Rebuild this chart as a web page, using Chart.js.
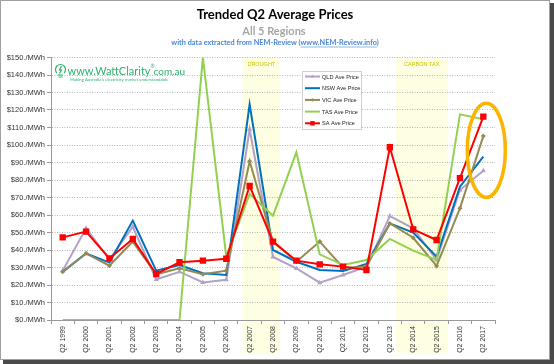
<!DOCTYPE html>
<html lang="en">
<head>
<meta charset="UTF-8" />
<title>Trended Q2 Average Prices</title>
<script src="https://cdn.jsdelivr.net/npm/chart.js"></script>
<style>
  html, body { margin: 0; padding: 0; background: #fff; }
  canvas { display: block; }
</style>
</head>
<body>
<canvas id="chart" width="554" height="364"></canvas>
<script>
const labels = ['Q2 1999', 'Q2 2000', 'Q2 2001', 'Q2 2002', 'Q2 2003', 'Q2 2004', 'Q2 2005', 'Q2 2006', 'Q2 2007', 'Q2 2008',
                'Q2 2009', 'Q2 2010', 'Q2 2011', 'Q2 2012', 'Q2 2013', 'Q2 2014', 'Q2 2015', 'Q2 2016', 'Q2 2017'];
const qld = [28.2, 52.4, 34.7, 53.3, 23.2, 27.6, 21.5, 23.0, 109.0, 36.0, 29.5, 21.3, 25.7, 30.5, 59.4, 52.4, 34.3, 74.3, 85.3];
const nsw = [27.5, 38.0, 32.8, 56.8, 28.2, 31.4, 26.7, 25.7, 123.2, 40.0, 33.3, 28.6, 28.0, 32.0, 55.2, 49.9, 36.2, 76.2, 93.3];
const vic = [27.6, 38.1, 31.0, 44.8, 26.1, 29.5, 26.1, 28.2, 90.7, 44.8, 33.3, 44.8, 29.9, 30.5, 55.2, 47.0, 30.9, 63.8, 105.1];
const tas = [0, 0, 0, 0, 0, 0, 150.0, 36.2, 72.0, 59.6, 95.8, 37.5, 31.4, 34.3, 46.3, 39.6, 34.3, 117.5, 114.7];
const sa  = [47.2, 50.5, 35.2, 46.3, 26.3, 33.0, 33.9, 35.0, 76.6, 44.8, 33.9, 31.8, 30.5, 28.6, 98.7, 51.8, 45.7, 81.1, 116.2];
const seriesNames = ['QLD Ave Price', 'NSW Ave Price', 'VIC Ave Price', 'TAS Ave Price', 'SA Ave Price'];
const yTicks = { min: 0, max: 150, step: 10 };

const colors = ['#b3a2c7', '#0070c0', '#948a54', '#92d050', '#ff0000'];
const markers = ['triangle', false, 'rectRot', false, 'rect'];
const markerSize = [3, 0, 2.5, 0, 4.5];

// frame, shaded periods, titles, logo, legend and the highlight ring
const decor = {
  id: 'decor',
  beforeDraw(chart) {
    const { ctx, chartArea: a, scales: { x } } = chart;
    ctx.save();
    ctx.fillStyle = '#4a4a4a';
    ctx.fillRect(3, 3, 551, 361);
    ctx.fillStyle = '#fff';
    ctx.fillRect(0, 0, 550, 360);
    ctx.strokeStyle = '#a0a0a0';
    ctx.lineWidth = 1;
    ctx.strokeRect(0.5, 0.5, 549, 359);

    const bands = [
      { text: 'DROUGHT', from: x.getPixelForValue(8) - 7, to: x.getPixelForValue(9) + 7 },
      { text: 'CARBON TAX', from: x.getPixelForValue(15) - 17.5, to: x.getPixelForValue(16) + 11 }
    ];
    bands.forEach(b => {
      ctx.fillStyle = '#fefee2';
      ctx.fillRect(b.from, a.top, b.to - b.from, 353 - a.top);
      ctx.fillStyle = '#c9c400';
      ctx.font = '5.5px "Liberation Sans"';
      ctx.textAlign = 'center';
      ctx.textBaseline = 'middle';
      ctx.fillText(b.text, (b.from + b.to) / 2, a.top + 7);
    });
    ctx.restore();
  },
  afterDraw(chart) {
    const { ctx, scales: { x, y } } = chart;
    ctx.save();
    ctx.textAlign = 'center';
    ctx.textBaseline = 'middle';
    ctx.fillStyle = '#000';
    ctx.font = 'bold 13px Lato';
    ctx.fillText('Trended Q2 Average Prices', 275, 15);
    ctx.fillStyle = '#a6a6a6';
    ctx.font = 'bold 11px Lato';
    ctx.fillText('All 5 Regions', 274, 31);
    ctx.font = 'bold 7.3px Lato';
    ctx.fillStyle = '#4a86d8';
    const pre = 'with data extracted from NEM-Review (';
    const link = 'www.NEM-Review.info';
    const full = pre + link + ')';
    const w = ctx.measureText(full).width;
    let sx = 275 - w / 2;
    ctx.textAlign = 'left';
    ctx.fillText(full, sx, 43);
    const lx = sx + ctx.measureText(pre).width;
    const lw = ctx.measureText(link).width;
    ctx.strokeStyle = '#4a86d8';
    ctx.lineWidth = 0.6;
    ctx.beginPath(); ctx.moveTo(lx, 47); ctx.lineTo(lx + lw, 47); ctx.stroke();

    // WattClarity logo
    const g = '#2fb06e';
    ctx.strokeStyle = g; ctx.lineWidth = 1.2;
    ctx.beginPath(); ctx.arc(60.5, 69.5, 5, Math.PI * 0.75, Math.PI * 2.25); ctx.stroke();
    ctx.beginPath(); ctx.moveTo(58, 75); ctx.lineTo(63, 75); ctx.moveTo(58.5, 77); ctx.lineTo(62.5, 77); ctx.stroke();
    ctx.beginPath(); ctx.moveTo(61.5, 66); ctx.lineTo(59.3, 70); ctx.lineTo(61.5, 70); ctx.lineTo(59.5, 73.5); ctx.stroke();
    ctx.fillStyle = g;
    ctx.font = '11px Lato';
    ctx.fillText('www.WattClarity', 67.5, 71);
    const ww = ctx.measureText('www.WattClarity').width;
    ctx.font = '5px Lato';
    ctx.fillText('\u00AE', 67.5 + ww, 66);
    ctx.font = '10px Lato';
    ctx.fillText('com.au', 67.5 + ww + 3, 71.5);
    ctx.font = '4.3px Lato';
    ctx.fillText('Making Australia\u2019s electricity market understandable', 70, 79.5);

    // legend
    const lgX = 302, lgY = 71;
    ctx.fillStyle = '#fff';
    ctx.fillRect(lgX, lgY, 59, 58);
    ctx.strokeStyle = '#d0d0d0'; ctx.lineWidth = 1;
    ctx.strokeRect(lgX + 0.5, lgY + 0.5, 59, 58);
    ctx.font = '5.6px "Liberation Sans"';
    seriesNames.forEach((name, i) => {
      const ry = lgY + 5.5 + i * 11.7;
      ctx.strokeStyle = colors[i]; ctx.lineWidth = 2;
      ctx.beginPath(); ctx.moveTo(lgX + 3, ry); ctx.lineTo(lgX + 18, ry); ctx.stroke();
      if (markers[i]) {
        ctx.fillStyle = colors[i];
        Chart.helpers.drawPoint(ctx, { pointStyle: markers[i], radius: markerSize[i] * 0.7, borderWidth: 0 }, lgX + 10.5, ry);
      }
      ctx.fillStyle = '#222';
      ctx.fillText(name, lgX + 20, ry + 0.5);
    });

    // highlight ring round the latest values
    ctx.strokeStyle = '#fbb400'; ctx.lineWidth = 3.5;
    ctx.beginPath();
    ctx.ellipse(x.getPixelForValue(18) + 3, y.getPixelForValue(97), 19, 47, 0, 0, Math.PI * 2);
    ctx.stroke();
    ctx.restore();
  }
};

const series = [qld, nsw, vic, tas, sa];
const datasets = series.map((d, i) => ({
  label: seriesNames[i],
  data: d,
  borderColor: colors[i],
  backgroundColor: colors[i],
  borderWidth: 2,
  pointStyle: markers[i],
  pointRadius: markerSize[i],
  pointBorderWidth: 0,
  pointHoverRadius: markerSize[i],
  tension: 0,
  order: series.length - 1 - i
}));

new Chart(document.getElementById('chart'), {
  type: 'line',
  data: { labels, datasets },
  options: {
    responsive: false,
    animation: false,
    devicePixelRatio: 1,
    layout: { padding: { left: 0, top: 57.5, right: 59, bottom: 0 } },
    plugins: { legend: { display: false }, tooltip: { enabled: false } },
    scales: {
      x: {
        offset: true,
        grid: { offset: true, drawOnChartArea: false, drawTicks: true, tickLength: 4, color: '#999' },
        border: { display: true, color: '#999', width: 1 },
        ticks: {
          autoSkip: false, minRotation: 90, maxRotation: 90, padding: 2,
          color: '#333', font: { family: '"Liberation Sans"', size: 7 }
        },
        afterFit(s) { s.height = 44; }
      },
      y: {
        min: yTicks.min, max: yTicks.max,
        grid: { color: '#b5b5b5', lineWidth: 1, tickLength: 4, tickColor: '#999', tickBorderDash: [] },
        border: { display: true, color: '#999', width: 1, dash: [1, 1.5] },
        ticks: {
          stepSize: yTicks.step, padding: 2, color: '#333',
          font: { family: '"Liberation Sans"', size: 7.5 },
          callback: v => '$' + v + './MWh'
        },
        afterFit(s) { s.width = 51; }
      }
    }
  },
  plugins: [decor]
});
</script>
</body>
</html>
